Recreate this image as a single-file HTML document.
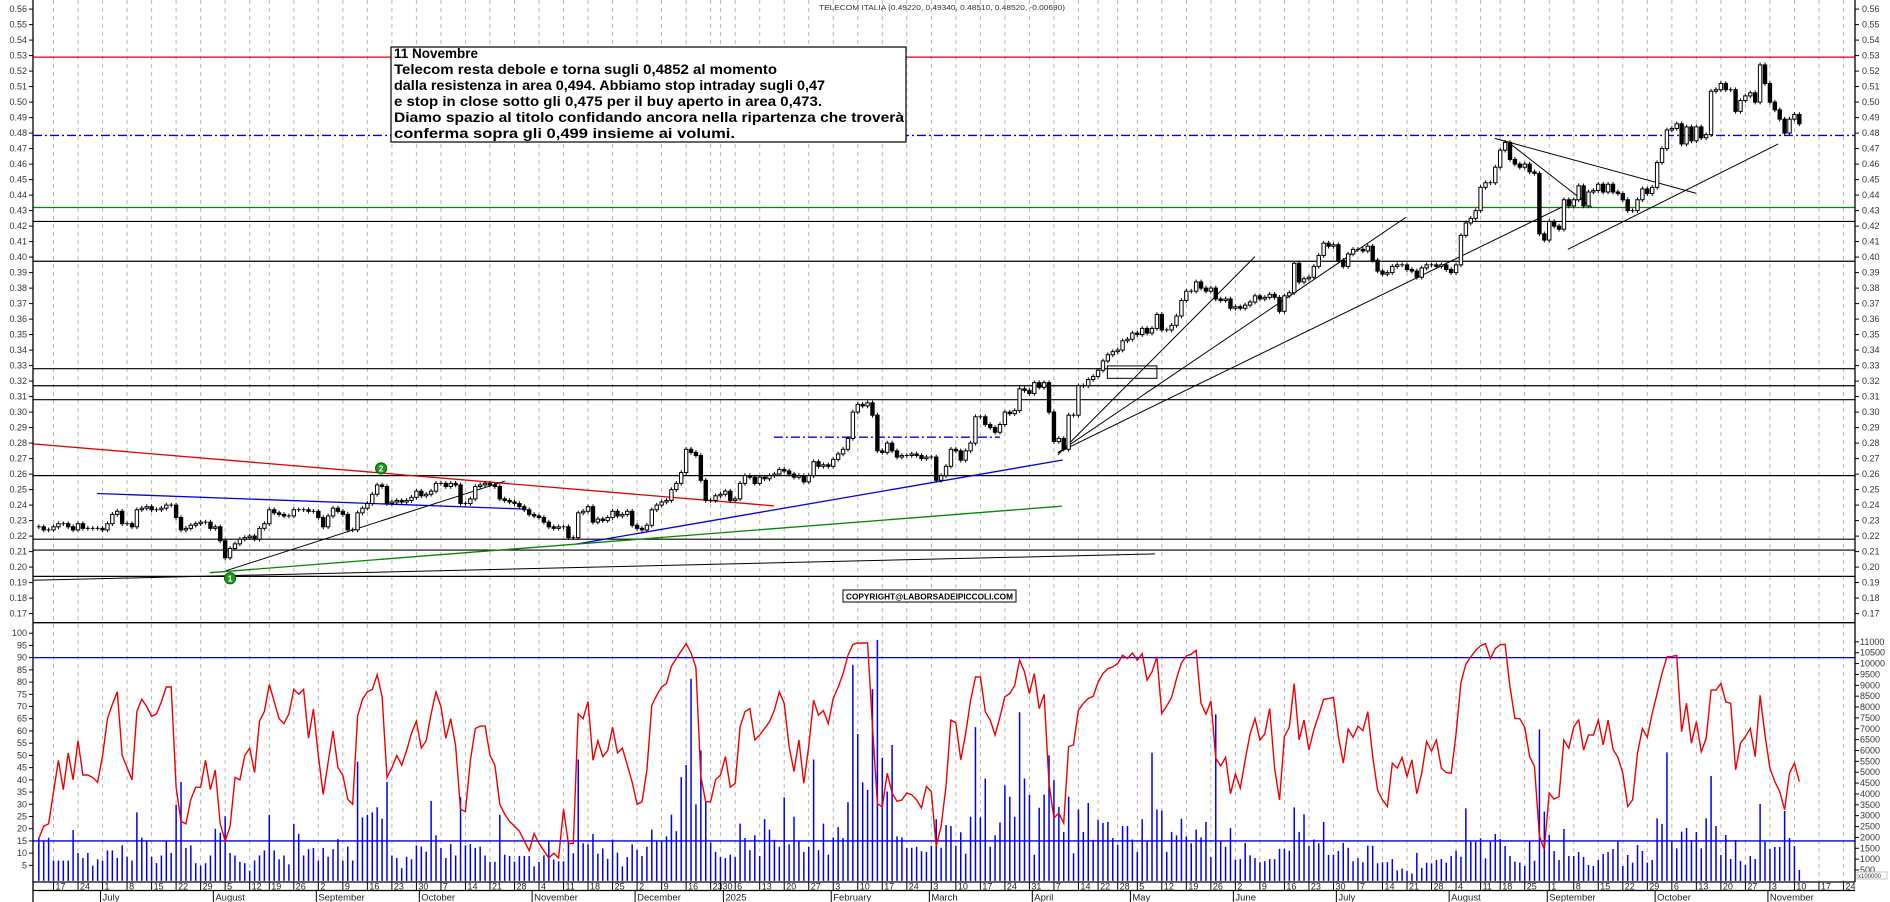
<!DOCTYPE html>
<html><head><meta charset="utf-8"><title>Telecom Italia chart</title>
<style>
html,body{margin:0;padding:0;background:#fff;}
svg{display:block;font-family:"Liberation Sans",Arial,sans-serif;}
</style></head>
<body>
<svg id="chart" width="1890" height="902" viewBox="0 0 1890 902" xmlns="http://www.w3.org/2000/svg">
<rect x="0" y="0" width="1890" height="902" fill="#fff"/>
<g id="grid"></g>
<g id="levels"></g>
<g id="trend"></g>
<g id="candles"></g>
<g id="lower"></g>
<g id="axes"></g>
<text x="819" y="10" font-size="7.5" fill="#333" textLength="246" lengthAdjust="spacingAndGlyphs">TELECOM ITALIA (0.49220, 0.49340, 0.48510, 0.48520, -0.00690)</text>
<g>
<rect x="391" y="47" width="515" height="95" fill="#fff" stroke="#000" stroke-width="1.2"/>
<g font-size="13.5" font-weight="bold" fill="#000">
<text x="394" y="58" textLength="84" lengthAdjust="spacingAndGlyphs">11 Novembre</text>
<text x="394" y="74" textLength="383" lengthAdjust="spacingAndGlyphs">Telecom resta debole e torna sugli 0,4852 al momento</text>
<text x="394" y="90" textLength="431" lengthAdjust="spacingAndGlyphs">dalla resistenza in area 0,494. Abbiamo stop intraday sugli 0,47</text>
<text x="394" y="106" textLength="428" lengthAdjust="spacingAndGlyphs">e stop in close sotto gli 0,475 per il buy aperto in area 0,473.</text>
<text x="394" y="122" textLength="510" lengthAdjust="spacingAndGlyphs">Diamo spazio al titolo confidando ancora nella ripartenza che troverà</text>
<text x="394" y="138" textLength="341" lengthAdjust="spacingAndGlyphs">conferma sopra gli 0,499 insieme ai volumi.</text>
</g></g>
<g>
<rect x="843" y="590" width="173" height="12" fill="#fff" stroke="#000" stroke-width="1"/>
<text x="846" y="599.5" font-size="8.5" font-weight="bold" textLength="167" lengthAdjust="spacingAndGlyphs">COPYRIGHT@LABORSADEIPICCOLI.COM</text>
</g>
</svg>
<script>
// ---------- data ----------
const closes = [
0.226,0.224,0.224,0.226,0.228,0.228,0.226,0.224,0.228,0.225,
0.225,0.225,0.225,0.224,0.228,0.234,0.236,0.228,0.228,0.226,
0.237,0.238,0.239,0.237,0.237,0.238,0.240,0.240,0.232,0.224,
0.225,0.227,0.228,0.229,0.229,0.225,0.226,0.217,0.206,0.212,
0.215,0.218,0.219,0.220,0.218,0.225,0.228,0.237,0.235,0.234,
0.233,0.233,0.237,0.237,0.237,0.236,0.236,0.232,0.226,0.233,
0.238,0.236,0.234,0.224,0.224,0.235,0.238,0.241,0.247,0.253,
0.252,0.241,0.242,0.243,0.242,0.243,0.245,0.249,0.246,0.247,
0.249,0.254,0.254,0.252,0.254,0.253,0.241,0.241,0.244,0.252,
0.253,0.254,0.253,0.252,
0.244,0.243,0.242,0.241,0.239,0.237,0.234,0.233,0.232,0.229,
0.226,0.225,0.226,0.226,0.219,0.219,0.235,0.236,0.239,0.229,
0.231,0.230,0.232,0.236,0.233,0.234,0.236,0.227,0.225,0.224,
0.227,0.237,0.240,0.242,0.243,0.250,0.254,0.261,0.276,0.274,
0.272,0.256,0.243,0.243,0.246,0.247,0.249,0.243,0.244,0.254,
0.259,0.258,0.254,0.258,0.257,0.259,0.260,0.263,0.262,0.260,
0.258,0.259,0.255,0.259,0.268,0.265,0.266,0.265,0.2695,0.273,
0.276,0.283,
0.300,0.305,0.304,0.306,0.298,0.275,0.274,0.280,0.275,0.271,
0.272,0.272,0.273,0.272,0.270,0.271,0.271,0.256,0.259,
0.265,0.276,0.275,0.269,0.275,0.280,0.297,0.297,0.292,0.290,
0.287,0.292,0.300,0.299,0.301,0.315,0.314,0.312,0.319,0.316,
0.319,0.300,0.281,0.283,0.276,0.298,0.298,0.317,0.317,0.321,
0.323,0.327,
0.333,0.337,0.339,0.340,0.346,0.347,0.351,0.350,0.354,0.351,
0.354,0.363,0.353,0.353,0.356,0.362,0.372,0.378,0.378,0.384,
0.380,0.378,0.380,0.373,0.372,0.373,0.367,0.368,0.367,0.369,
0.371,0.375,0.373,0.374,0.376,0.374,0.365,0.375,0.377,0.396,
0.384,0.386,0.387,0.394,0.401,0.409,0.407,0.408,0.398,0.394,
0.402,0.405,0.405,0.404,0.407,0.398,0.391,0.389,0.390,0.394,
0.395,0.395,0.392,0.391,0.387,0.393,0.395,0.395,0.394,0.395,
0.392,0.390,0.395,
0.414,0.422,0.425,0.430,0.445,0.448,0.448,0.458,0.469,0.474,
0.463,0.460,0.458,0.460,0.455,0.454,0.415,0.411,0.423,0.420,
0.418,0.437,0.433,0.437,0.446,0.433,0.442,0.443,0.447,0.442,
0.447,0.442,0.441,0.437,0.430,0.430,0.437,0.444,0.441,0.445,
0.461,0.470,0.482,0.483,0.486,0.473,0.484,0.475,0.484,0.477,
0.479,0.507,0.508,0.512,0.508,0.508,0.494,0.501,0.504,0.506,
0.500,0.524,0.512,0.500,0.495,0.489,0.480,0.489,0.492,0.486
];
const oscillator = [
16,21,22,35,48,36,51,40,56,42,
42,41,39,50,65,71,76,50,45,40,
68,73,70,66,67,72,78,78,37,23,
22,32,37,37,48,36,44,22,15,21,
41,40,50,53,43,64,68,79,72,65,
63,67,77,75,77,57,69,50,34,47,
60,45,42,32,30,66,73,76,77,83,
74,41,45,50,46,52,59,64,53,56,
67,76,70,57,65,54,28,27,48,61,
62,62,50,46,30,26,23,21,19,15,
11,18,14,11,8,10,8,28,14,14,
67,65,72,48,56,
49.5,52,61.5,51,53,46,39,30,31,44,
70.5,74.6,78,79.4,86.5,89.6,92.7,95.7,92,86,
41.4,31,31,40,42,49.5,37,38.6,61.7,67.9,
69.2,56.3,58.3,61,63.8,68.5,76,71.3,53.6,43.4,
56.3,38.6,53.6,72.6,66.5,68.3,63,73.3,78,83.5,
91,95.4,96,96,96,61.7,30.2,29,42.7,34.6,
31.2,31.8,34.6,33.9,31.8,28.5,37.3,35.2,12.8,21,
37.3,64.5,63.4,48.2,59,72.6,82.1,82.1,67.9,64.5,
58.3,65.8,74,75.3,78.7,89,
84.2,75.3,83.5,69.2,75,38.6,24.4,26.4,22.3,53.6,
54.3,68.5,71.3,73.3,74.2,80,83.5,85.5,86.2,87.6,
91,89.6,91.9,88.9,91.6,80.8,84.2,90.3,67.2,70.2,
73.7,81.4,87.8,90.7,91.4,93,71.3,66.9,72.3,48.8,
45.7,49.2,34.3,42.4,36.6,48.2,58.8,65.1,56.3,58.8,
69.2,44.8,31.8,57.7,61.5,79.4,56.3,64.5,52.2,60.4,
66.5,72.9,73.3,73.7,57.7,46.8,60.7,57.4,62,60.1,
67.9,49.5,35.7,31.8,29.1,46.8,44.8,49.2,41.4,48.2,
34.3,42.7,
55.6,51.8,56.3,44.8,43,42.7,59,80,87.3,90.3,
93,94.9,95.7,89.6,93.7,95.3,95.4,78,65.1,65,
61.5,49.5,45.4,16.9,11.5,34.6,32.1,33.2,56.3,52.9,
61.7,64.5,52.2,58.3,58.3,64.5,54.3,64.5,52.5,49.2,
42.7,29.1,31.8,50.9,61,57.4,67.2,75.3,83.5,90.3,
90.5,90.9,59.7,71.3,55,63.8,51.5,57,76.7,76.7,
79.4,71.9,71.3,44.1,55,57.7,61,49.5,74.6,58.3,
44.8,39.3,35.2,27.8,42.7,46.8,39.3
];
const volumes = [
1984,1867,1984,934,934,934,934,2334,1284,1050,
1284,700,992,934,1400,1400,1050,1634,1109,934,
3151,1984,1809,1109,817,1167,1809,1284,3501,4551,
1517,1634,817,700,817,1167,2392,2217,2976,1284,
1167,875,817,467,934,1167,1400,3034,1400,992,
1167,759,2626,2159,1167,1459,1517,934,1517,1109,
1459,1926,934,1575,934,5485,2918,3034,3151,3384,
2859,4551,1167,1050,584,1109,992,1634,1575,1342,
3676,2101,1517,1050,1692,1167,3851,1634,1692,1517,
1575,1167,875,875,3034,
1206,1142,888,1142,1142,1142,666,872,1174,1809,
984,904,900,1809,1269,5586,1730,1682,2158,1253,
1491,1015,1904,1301,666,1095,1682,1428,1142,1571,
2364,1809,1809,2047,3047,2285,4776,5332,9298,3523,
6000,3634,1761,1333,1095,1047,1206,1095,2634,1967,
1412,2094,1142,2840,2364,1888,1571,3840,1682,2951,
1856,1333,1571,5586,1412,2634,1206,1999,2475,1967,
3618,9948,6759,4538,4189,8822,11090,5665,4110,6252,
2047,1999,1523,1523,1571,1364,1333,1618,2840,1523,
2570,2523,1618,2237,1253,2951,7077,2920,4713,1571,
2094,2682,4396,3872,2951,7759,
4713,3952,1200,3364,3967,5776,4634,3396,2253,3872,
1269,3285,2253,3586,1888,2808,2665,2713,1967,1666,
2523,2523,1904,1333,2840,1809,5903,3285,3237,1333,
2253,2094,2856,2047,1729,2364,1999,2713,1095,7664,
1809,1571,2428,967,999,1745,1174,1047,857,904,
999,999,1475,1475,1380,3380,2253,3063,1618,1904,
1729,2713,1190,1206,1380,1745,1523,904,1047,857,
1618,1618,809,857,857,999,475,571,460,333,
1285,600,
838,807,960,1006,838,1144,1390,1114,3338,1804,
1804,1957,1037,1804,2157,1927,1604,1144,884,838,
684,1804,930,6973,3184,2111,1374,960,2387,1144,
1144,1328,1098,730,684,960,1236,1328,1466,1804,
684,1190,838,1650,1374,838,960,2878,2617,5915,
1804,1497,2264,2433,1881,2249,1497,2878,4826,2525,
1190,2111,1006,1881,914,730,1144,1006,3537,1804,
1466,1558,1558,3215,1973,1604,500
];
const priceTicks = [0.56,0.55,0.54,0.53,0.52,0.51,0.50,0.49,0.48,0.47,0.46,0.45,0.44,0.43,0.42,0.41,0.40,0.39,0.38,0.37,0.36,0.35,0.34,0.33,0.32,0.31,0.30,0.29,0.28,0.27,0.26,0.25,0.24,0.23,0.22,0.21,0.20,0.19,0.18,0.17];
const oscTicks = [100,95,90,85,80,75,70,65,60,55,50,45,40,35,30,25,20,15,10,5];
const volTicks = [11000,10500,10000,9500,9000,8500,8000,7500,7000,6500,6000,5500,5000,4500,4000,3500,3000,2500,2000,1500,1000,500];
const blackLevels = [0.423,0.3973,0.328,0.317,0.308,0.259,0.218,0.211,0.194];
const redLevel = 0.529, blueLevel = 0.4785, greenLevel = 0.432;
const oscLevels = [90,15];
const monthNames = ['2025','February','March','April','May','June','July','August','September','October','November','December'];
const holidays = ['2024-08-15','2024-12-24','2024-12-25','2024-12-26','2024-12-31','2025-01-01','2025-04-18','2025-04-21','2025-05-01','2025-08-15'];
// trend lines: [barStart, priceStart, barEnd, priceEnd, color, width, dash]
const trendStart = [-1.2, 11.9, 109.7, 34.9, -1.2, 38.2, 207.8, 207.8, 207.8, 311.8, 296.9, 299.4];
const trendStartP = [0.2795,0.2475,0.2149,0.1964,0.1915,0.1977,0.2725,0.2738,0.2738,0.405,0.4766,0.4747];
const trendEnd = [149.9, 98.7, 208.8, 208.6, 227.6, 95.1, 248.0, 278.8, 314.3, 354.7, 337.9, 316.7];
const trendEndP = [0.2395,0.2375,0.2691,0.2393,0.2085,0.2555,0.4003,0.4257,0.438,0.473,0.4412,0.4321];
const trendColor = ['#e00000','#0000e0','#0000e0','#008800','#000','#000','#000','#000','#000','#000','#000','#000'];

// ---------- scales ----------
const L = 33, R = 1855;
const X = i => 38.8 + 4.904 * i;
const Yp = p => 55.6 + (0.53 - p) * 1550;
const Yo = v => 877.6 - v * 2.444;
const Yv = v => 870 - (v - 500) / 46.02;

const NS = 'http://www.w3.org/2000/svg';
function mk(tag, attrs, parent, text) {
  const e = document.createElementNS(NS, tag);
  for (const k in attrs) e.setAttribute(k, attrs[k]);
  if (text !== undefined) e.textContent = text;
  parent.appendChild(e);
  return e;
}
const gGrid = document.getElementById('grid');
const gLev = document.getElementById('levels');
const gTr = document.getElementById('trend');
const gC = document.getElementById('candles');
const gLo = document.getElementById('lower');
const gAx = document.getElementById('axes');

// ---------- dates ----------
const dates = [];
{
  const hs = new Set(holidays);
  let d = new Date(Date.UTC(2024, 5, 12));
  while (dates.length < 370) {
    const wd = d.getUTCDay();
    const iso = d.toISOString().slice(0, 10);
    if (wd !== 0 && wd !== 6 && !hs.has(iso)) dates.push(new Date(d));
    d = new Date(d.getTime() + 86400000);
  }
}
const weekKey = d => Math.floor((d.getTime() / 86400000 + 3) / 7);

// ---------- grid & date axis ----------
for (let i = 0; i < dates.length; i++) {
  const x = X(i);
  if (x > R) break;
  const newWeek = i === 0 ? false : weekKey(dates[i]) !== weekKey(dates[i - 1]);
  if (newWeek) {
    const gl = mk('line', {x1: x, y1: 0, x2: x, y2: 882, stroke: '#b8b8b8', 'stroke-width': 1, 'stroke-dasharray': '4,4'}, gGrid);
    
    
    const tk = mk('line', {x1: x, y1: 882, x2: x, y2: 890, stroke: '#000', 'stroke-width': 1}, gAx);
    
    
    const tl = mk('text', {x: x + 2, y: 889.5, 'font-size': 9, fill: '#222'}, gAx, String(dates[i].getUTCDate()));
    
    
  }
  const newMonth = i > 0 && dates[i].getUTCMonth() !== dates[i - 1].getUTCMonth();
  if (newMonth) {
    const mt = mk('line', {x1: x - 2, y1: 890, x2: x - 2, y2: 902, stroke: '#000', 'stroke-width': 1}, gAx);
    
    
    const ml = mk('text', {x: x, y: 900.5, 'font-size': 9.5, fill: '#222'}, gAx, monthNames[dates[i].getUTCMonth()]);
    
    
  }
}

// ---------- horizontal levels ----------
blackLevels.forEach(p => {
  const l = mk('line', {x1: L, y1: Yp(p), x2: R, y2: Yp(p), stroke: '#000', 'stroke-width': 1.2}, gLev);
  
  
});
{
  const l1 = mk('line', {x1: L, y1: Yp(redLevel), x2: R, y2: Yp(redLevel), stroke: '#e00000', 'stroke-width': 1.2}, gLev);
  
  
  const l2 = mk('line', {x1: L, y1: Yp(blueLevel), x2: R, y2: Yp(blueLevel), stroke: '#0000dd', 'stroke-width': 1.3, 'stroke-dasharray': '9,3,2,3'}, gLev);
  
  
  const l3 = mk('line', {x1: L, y1: Yp(greenLevel), x2: R, y2: Yp(greenLevel), stroke: '#008800', 'stroke-width': 1.2}, gLev);
  
  
  const l4 = mk('line', {x1: X(149.9), y1: Yp(0.2838), x2: X(196), y2: Yp(0.2838), stroke: '#0000dd', 'stroke-width': 1.3, 'stroke-dasharray': '9,3,2,3'}, gLev);
  
  
}

// ---------- trend lines ----------
for (let k = 0; k < trendStart.length; k++) {
  const t = mk('line', {x1: X(trendStart[k]), y1: Yp(trendStartP[k]), x2: X(trendEnd[k]), y2: Yp(trendEndP[k]), stroke: trendColor[k], 'stroke-width': k < 4 ? 1.3 : 1}, gTr);
  
  
}
{
  const box = mk('rect', {x: X(217.9), y: Yp(0.3298), width: X(228) - X(217.9), height: Yp(0.3218) - Yp(0.3298), fill: 'none', stroke: '#000', 'stroke-width': 1}, gTr);
  
  
}

// ---------- candles ----------
for (let i = 0; i < closes.length; i++) {
  const c = closes[i];
  const o = i > 0 ? closes[i - 1] : c;
  const hi = Math.max(o, c) + 0.0015, lo = Math.min(o, c) - 0.0015;
  const x = X(i);
  const w = mk('line', {x1: x, y1: Yp(hi), x2: x, y2: Yp(lo), stroke: '#000', 'stroke-width': 1}, gC);
  
  
  const top = Yp(Math.max(o, c)), bot = Yp(Math.min(o, c));
  if (bot - top < 1) {
    const dj = mk('line', {x1: x - 2, y1: top, x2: x + 2, y2: top, stroke: '#000', 'stroke-width': 1}, gC);
    
    
  } else {
    const b = mk('rect', {x: x - 1.7, y: top, width: 3.4, height: bot - top, fill: c >= o ? '#fff' : '#000', stroke: '#000', 'stroke-width': 1}, gC);
    
    
  }
}

// ---------- markers ----------
[[39, 0.1928, '1'], [69.8, 0.2637, '2']].forEach(m => {
  const ci = mk('circle', {cx: X(m[0]), cy: Yp(m[1]), r: 5.5, fill: '#1f9a1f', stroke: '#0b6b0b', 'stroke-width': 1.2}, gTr);
  
  
  const tx = mk('text', {x: X(m[0]), y: Yp(m[1]) + 3, 'font-size': 8.5, 'font-weight': 'bold', fill: '#fff', 'text-anchor': 'middle'}, gTr, m[2]);
  
  
});

// ---------- lower panel ----------
oscLevels.forEach(v => {
  const l = mk('line', {x1: L, y1: Yo(v), x2: R, y2: Yo(v), stroke: '#0000dd', 'stroke-width': 1.3}, gLo);
  
  
});
for (let i = 0; i < volumes.length; i++) {
  const b = mk('line', {x1: X(i), y1: Yv(0), x2: X(i), y2: Yv(volumes[i]), stroke: '#0000ee', 'stroke-width': 1.5}, gLo);
  
  
}
{
  const pts = oscillator.map((v, i) => X(i).toFixed(1) + ',' + Yo(v).toFixed(1)).join(' ');
  const pl = mk('polyline', {points: pts, fill: 'none', stroke: '#ee0000', 'stroke-width': 1.4}, gLo);
  
  
}

// ---------- axes ----------
{
  const frame = [[L, 0, L, 902], [R, 0, R, 882], [L, 622.7, R, 622.7], [L, 882, R, 882], [L, 890.5, R, 890.5]];
  frame.forEach(f => {
    const l = mk('line', {x1: f[0], y1: f[1], x2: f[2], y2: f[3], stroke: '#000', 'stroke-width': 1.3}, gAx);
    
    
  });
}
priceTicks.forEach(p => {
  const y = Yp(p);
  const a = mk('text', {x: 27, y: y + 3, 'font-size': 9, fill: '#333', 'text-anchor': 'end'}, gAx, p.toFixed(2));
  
  
  const b = mk('text', {x: 1862, y: y + 3, 'font-size': 9, fill: '#333'}, gAx, p.toFixed(2));
  
  
  const t1 = mk('line', {x1: L - 4, y1: y, x2: L, y2: y, stroke: '#000'}, gAx);
  
  
  const t2 = mk('line', {x1: R, y1: y, x2: R + 4, y2: y, stroke: '#000'}, gAx);
  
  
});
oscTicks.forEach(v => {
  const y = Yo(v);
  const a = mk('text', {x: 27, y: y + 3, 'font-size': 9, fill: '#333', 'text-anchor': 'end'}, gAx, String(v));
  
  
  const t = mk('line', {x1: L - 4, y1: y, x2: L, y2: y, stroke: '#000'}, gAx);
  
  
});
volTicks.forEach(v => {
  const y = Yv(v);
  const a = mk('text', {x: 1860, y: y + 3, 'font-size': 9, fill: '#333'}, gAx, String(v));
  
  
  const t = mk('line', {x1: R, y1: y, x2: R + 4, y2: y, stroke: '#000'}, gAx);
  
  
});
{
  const ub = mk('rect', {x: 1857, y: 872, width: 30, height: 7, fill: '#fff', stroke: '#999', 'stroke-width': 0.6}, gAx);
  
  
  const ut = mk('text', {x: 1858, y: 877.8, 'font-size': 6, fill: '#333'}, gAx, 'x100000');
  
  
}
</script>
</body></html>
